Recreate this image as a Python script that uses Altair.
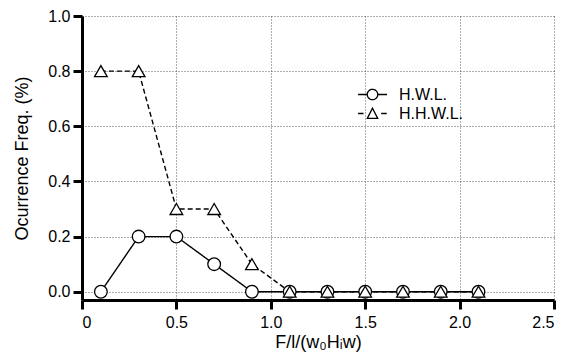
import altair as alt
import pandas as pd

# ---- data ----
x_vals = [0.1, 0.3, 0.5, 0.7, 0.9, 1.1, 1.3, 1.5, 1.7, 1.9, 2.1]
hwl = [0.0, 0.2, 0.2, 0.1, 0.0, 0.0, 0.0, 0.0, 0.0, 0.0, 0.0]
hhwl = [0.8, 0.8, 0.3, 0.3, 0.1, 0.0, 0.0, 0.0, 0.0, 0.0, 0.0]
series_names = ["H.W.L.", "H.H.W.L."]
x_ticks = [0, 0.5, 1.0, 1.5, 2.0, 2.5]
y_ticks = [0.0, 0.2, 0.4, 0.6, 0.8, 1.0]

rows = []
for name, ys in zip(series_names, [hwl, hhwl]):
    for xv, yv in zip(x_vals, ys):
        rows.append({"x": xv, "y": yv, "series": name,
                     "series_lg": name, "series_pt": name})
df = pd.DataFrame(rows)

FONT = "Liberation Sans"

# legend glyphs: line segments with the marker in the middle
SYM_CIRCLE = ("M-1,0H-0.36M0.36,0H1"
              "M0.36,0C0.36,0.199,0.199,0.36,0,0.36"
              "C-0.199,0.36,-0.36,0.199,-0.36,0"
              "C-0.36,-0.199,-0.199,-0.36,0,-0.36"
              "C0.199,-0.36,0.36,-0.199,0.36,0Z")
SYM_TRIANGLE = "M-1,0H-0.62M0.6,0H0.98M0,-0.36L0.36,0.34L-0.36,0.34Z"

x_enc = alt.X(
    "x:Q",
    scale=alt.Scale(domain=[0, 2.5], nice=False, zero=False),
    axis=alt.Axis(
        values=x_ticks,
        title="F/l/(w₀Hᵢw)",
        labelExpr="datum.value == 0 ? '0' : format(datum.value, '.1f')",
        titlePadding=3,
        labelPadding=5,
    ),
)
y_enc = alt.Y(
    "y:Q",
    scale=alt.Scale(domain=[-0.03, 1.0], nice=False, zero=False),
    axis=alt.Axis(
        values=y_ticks,
        format=".1f",
        title="Ocurrence Freq.  (%)",
        titlePadding=16,
        labelPadding=3,
    ),
)

legend_common = dict(
    title=None,
    orient="none",
    legendX=275,
    symbolSize=841,
    symbolFillColor="white",
    symbolStrokeWidth=1.3,
    labelFont=FONT,
    labelFontSize=16,
    labelColor="black",
    labelOffset=11,
    padding=0,
)

lines = alt.Chart(df).mark_line(strokeWidth=1.4).encode(
    x=x_enc,
    y=y_enc,
    strokeDash=alt.StrokeDash(
        "series:N",
        scale=alt.Scale(domain=series_names, range=[[1, 0], [5, 3]]),
        legend=alt.Legend(
            values=[series_names[0]],
            legendY=63,
            symbolType=SYM_CIRCLE,
            symbolStrokeColor="black",
            **legend_common,
        ),
    ),
    color=alt.Color(
        "series_lg:N",
        sort=series_names,
        scale=alt.Scale(range=["black", "black"]),
        legend=alt.Legend(
            values=[series_names[1]],
            legendY=82,
            symbolType=SYM_TRIANGLE,
            **legend_common,
        ),
    ),
)

points = alt.Chart(df).mark_point(
    filled=True, fill="white", stroke="black", strokeWidth=1.3, opacity=1, size=160
).encode(
    x=x_enc,
    y=y_enc,
    shape=alt.Shape(
        "series_pt:N",
        sort=series_names,
        scale=alt.Scale(range=["circle", "triangle-up"]),
        legend=None,
    ),
)

chart = (
    alt.layer(lines, points)
    .properties(
        width=472,
        height=284,
        autosize=alt.AutoSizeParams(type="none"),
        padding={"left": 74, "top": 8, "right": 3, "bottom": 57},
        background="white",
    )
    .configure_view(strokeWidth=0)
    .configure_axis(
        domainColor="black",
        domainWidth=3,
        tickColor="black",
        tickWidth=3,
        tickSize=9,
        gridColor="#333333",
        gridDash=[1, 2],
        gridWidth=0.8,
        labelFont=FONT,
        labelFontSize=16,
        labelColor="black",
        titleFont=FONT,
        titleFontSize=18,
        titleFontWeight="normal",
        titleColor="black",
    )
)

chart.save("out.html", embed_options={"renderer": "svg", "actions": False})
